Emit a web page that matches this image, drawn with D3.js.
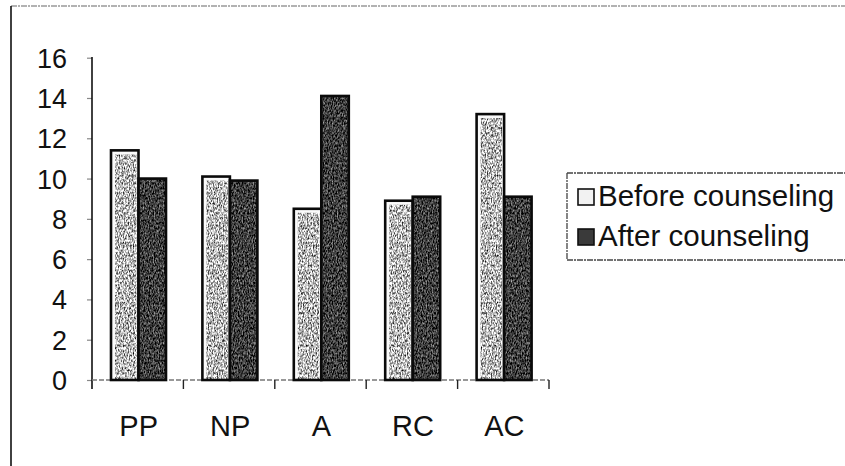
<!DOCTYPE html>
<html>
<head>
<meta charset="utf-8">
<script src="https://cdn.jsdelivr.net/npm/d3@7/dist/d3.min.js"></script>
<style>
  html, body { margin: 0; padding: 0; background: #fff; overflow: hidden; }
  svg { display: block; }
  text { font-family: "Liberation Sans", Arial, sans-serif; fill: #111; }
</style>
</head>
<body>
<svg id="chart" width="845" height="466"></svg>
<script>
// Scores per scale, before and after counseling
const categories = ["PP", "NP", "A", "RC", "AC"];
const seriesNames = ["Before counseling", "After counseling"];
const beforeValues = [11.4, 10.1, 8.5, 8.9, 13.2];
const afterValues = [10.0, 9.9, 14.1, 9.1, 9.1];
const yTicks = [0, 2, 4, 6, 8, 10, 12, 14, 16];

const rows = categories.map((c, i) => ({
  category: c,
  values: [
    { series: seriesNames[0], value: beforeValues[i] },
    { series: seriesNames[1], value: afterValues[i] }
  ]
}));

const svg = d3.select("#chart");

// Grain filters giving the bars a speckled print texture
const defs = svg.append("defs");
function grain(id, slope, offset, seed) {
  const f = defs.append("filter").attr("id", id)
    .attr("x", 0).attr("y", 0).attr("width", 1).attr("height", 1)
    .attr("color-interpolation-filters", "sRGB");
  f.append("feTurbulence").attr("type", "fractalNoise")
    .attr("baseFrequency", "0.8 0.4").attr("numOctaves", 2)
    .attr("seed", seed).attr("result", "noise");
  f.append("feColorMatrix").attr("in", "noise").attr("type", "matrix")
    .attr("values", [
      slope, 0, 0, 0, offset,
      slope, 0, 0, 0, offset,
      slope, 0, 0, 0, offset,
      0, 0, 0, 0, 1
    ].join(" ")).attr("result", "gray");
  f.append("feComposite").attr("in", "gray").attr("in2", "SourceGraphic")
    .attr("operator", "in");
}
grain("grainLight", 2.0, -0.28, 4);
grain("grainDark", 1.2, -0.36, 9);

// Frame lines of the chart area
svg.append("line").attr("x1", 11).attr("x2", 845).attr("y1", 6).attr("y2", 6)
  .attr("stroke", "#666").attr("stroke-width", 1.2).attr("stroke-dasharray", "6 1 2 1");
svg.append("line").attr("x1", 11).attr("x2", 11).attr("y1", 6).attr("y2", 466)
  .attr("stroke", "#111").attr("stroke-width", 1.6);

// Scales
const y = d3.scaleLinear().domain([0, 16]).range([380, 57.7]);
const x0 = d3.scaleBand().domain(categories).range([92, 549]).padding(0);
const x1 = d3.scaleBand().domain(seriesNames).range([19, 74]).padding(0);

// Y axis
const yAxis = d3.axisLeft(y).tickValues(yTicks).tickSize(5).tickPadding(20)
  .tickFormat(d3.format("d"));
const gy = svg.append("g").attr("transform", "translate(92,0)").call(yAxis);
gy.select(".domain").remove();
gy.selectAll(".tick line").attr("stroke", "#888").attr("stroke-width", 1.2);
gy.selectAll(".tick text").style("font-size", "27px").attr("dy", "0.35em");
svg.append("line").attr("x1", 92).attr("x2", 92).attr("y1", 57).attr("y2", 389)
  .attr("stroke", "#111").attr("stroke-width", 1.6);

// X axis: baseline, tick marks at category boundaries, labels
svg.append("line").attr("x1", 92).attr("x2", 549).attr("y1", y(0)).attr("y2", y(0))
  .attr("stroke", "#777").attr("stroke-width", 1.4).attr("stroke-dasharray", "5 2");
const boundaries = categories.map(c => x0(c) + x0.bandwidth());
svg.selectAll(".xtick").data(boundaries).join("line").attr("class", "xtick")
  .attr("x1", d => d).attr("x2", d => d).attr("y1", y(0)).attr("y2", y(0) + 9)
  .attr("stroke", "#222").attr("stroke-width", 1.4);
svg.selectAll(".xlabel").data(categories).join("text").attr("class", "xlabel")
  .attr("x", d => x0(d) + x0.bandwidth() / 2 + 1).attr("y", 436)
  .attr("text-anchor", "middle").style("font-size", "29px").text(d => d);

// Bars
const groups = svg.selectAll(".grp").data(rows).join("g").attr("class", "grp")
  .attr("transform", d => `translate(${x0(d.category)},0)`);
const bars = groups.selectAll(".bar").data(d => d.values).join("g").attr("class", "bar");
bars.append("rect")
  .attr("x", d => x1(d.series)).attr("y", d => y(d.value))
  .attr("width", x1.bandwidth()).attr("height", d => y(0) - y(d.value))
  .attr("fill", (d, i) => i === 0 ? "#fafafa" : "#2a2a2a");
bars.append("rect")
  .attr("x", (d, i) => x1(d.series) + (i === 0 ? 4 : 1))
  .attr("y", (d, i) => y(d.value) + (i === 0 ? 4 : 1))
  .attr("width", (d, i) => x1.bandwidth() - (i === 0 ? 6 : 2))
  .attr("height", (d, i) => Math.max(0, y(0) - y(d.value) - (i === 0 ? 5 : 2)))
  .attr("fill", "#888")
  .attr("filter", (d, i) => i === 0 ? "url(#grainLight)" : "url(#grainDark)");
bars.append("rect")
  .attr("x", d => x1(d.series)).attr("y", d => y(d.value))
  .attr("width", x1.bandwidth()).attr("height", d => y(0) - y(d.value))
  .attr("fill", "none").attr("stroke", "#0a0a0a").attr("stroke-width", 2.6);

// Legend: box open on the right, running off the page edge
const legend = svg.append("g");
const legendEdges = [
  [567, 173, 845, 173],
  [567, 173, 567, 260],
  [567, 260, 845, 260]
];
legend.selectAll(".edge").data(legendEdges).join("line").attr("class", "edge")
  .attr("x1", d => d[0]).attr("y1", d => d[1]).attr("x2", d => d[2]).attr("y2", d => d[3])
  .attr("stroke", "#444").attr("stroke-width", 1.3).attr("stroke-dasharray", "6 1 2 1");
const items = legend.selectAll(".item").data(seriesNames).join("g").attr("class", "item")
  .attr("transform", (d, i) => `translate(0,${i * 40})`);
items.append("rect").attr("x", 578).attr("y", 189).attr("width", 16).attr("height", 16)
  .attr("fill", (d, i) => i === 0 ? "#f2f2f2" : "#3a3a3a")
  .attr("stroke", "#111").attr("stroke-width", 1.6);
items.append("text").attr("x", 598).attr("y", 206).style("font-size", "29.5px").text(d => d);
</script>
</body>
</html>
